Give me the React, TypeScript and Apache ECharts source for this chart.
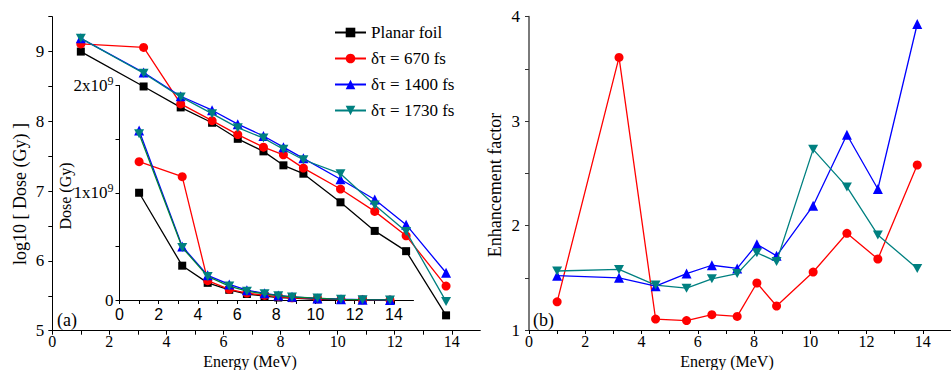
import React, { useEffect, useRef } from 'react';
import * as echarts from 'echarts';

const energy = [1, 3.2, 4.5, 5.6, 6.5, 7.4, 8.1, 8.8, 10.1, 11.3, 12.4, 13.8];

const seriesNames = ['Planar foil', 'δτ = 670 fs', 'δτ = 1400 fs', 'δτ = 1730 fs'];

// panel (a): log10 of dose
const logPlanar = [9.0, 8.5, 8.2, 7.98, 7.75, 7.57, 7.37, 7.25, 6.84, 6.43, 6.14, 5.22];
const log670 = [9.11, 9.06, 8.25, 8.01, 7.81, 7.63, 7.52, 7.33, 7.03, 6.71, 6.36, 5.64];
const log1400 = [9.19, 8.7, 8.36, 8.16, 7.96, 7.79, 7.63, 7.47, 7.17, 6.88, 6.52, 5.83];
const log1730 = [9.19, 8.69, 8.35, 8.11, 7.91, 7.76, 7.6, 7.45, 7.25, 6.8, 6.42, 5.42];

// inset: dose in units of 1e9 Gy
const dosePlanar = [1.0, 0.32, 0.16, 0.095, 0.056, 0.037, 0.023, 0.018, 0.007, 0.003, 0.0014, 0.0002];
const dose670 = [1.29, 1.15, 0.18, 0.1, 0.065, 0.043, 0.033, 0.021, 0.011, 0.005, 0.0023, 0.0004];
const dose1400 = [1.58, 0.5, 0.23, 0.145, 0.091, 0.062, 0.043, 0.03, 0.015, 0.0076, 0.0033, 0.0007];
const dose1730 = [1.55, 0.49, 0.22, 0.13, 0.082, 0.058, 0.04, 0.028, 0.018, 0.0063, 0.0026, 0.0003];

// panel (b): enhancement factor
const ef670 = [1.27, 3.61, 1.105, 1.09, 1.147, 1.13, 1.45, 1.23, 1.555, 1.926, 1.68, 2.58];
const ef1400 = [1.52, 1.5, 1.42, 1.54, 1.62, 1.59, 1.82, 1.71, 2.19, 2.87, 2.35, 3.93];
const ef1730 = [1.565, 1.58, 1.43, 1.4, 1.49, 1.54, 1.74, 1.655, 2.73, 2.37, 1.91, 1.59];

const xTickLabels = ['0', '2', '4', '6', '8', '10', '12', '14'];

const SERIF = 'Liberation Serif';
const SANS = 'Liberation Sans';

const colors = ['#000000', '#ff0000', '#0000ff', '#008080'];
const insetLineColors = ['#000000', '#ff0000', '#0000ff', '#00803c'];
const symbols = ['rect', 'circle', 'triangle', 'path://M0,0L10,0L5,8.66Z'];
const symbolSizes: any[] = [8, 9, 10, [10, 9]];

const pair = (ys: number[]) => energy.map((x, i) => [x, ys[i]]);

export default function App() {
  const ref = useRef<HTMLDivElement>(null);
  useEffect(() => {
    if (!ref.current) return;
    const chart = echarts.init(ref.current, null, { renderer: 'svg' });

    const xLabelFmt = (v: number) => (xTickLabels.includes(String(v)) ? String(v) : '');
    const baseX = (gridIndex: number, font: string, size: number, margin: number) => ({
      type: 'value',
      gridIndex,
      min: 0,
      max: 15,
      interval: 1,
      axisLine: { show: true, onZero: false, lineStyle: { color: '#000', width: 1 } },
      axisTick: { show: true, inside: false, length: 4, lineStyle: { color: '#000', width: 1 } },
      axisLabel: {
        formatter: xLabelFmt, fontFamily: font, fontSize: size,
        color: '#000', margin, showMaxLabel: false,
      },
      splitLine: { show: false },
    });

    const mainData = [logPlanar, log670, log1400, log1730];
    const insetData = [dosePlanar, dose670, dose1400, dose1730];
    const efData = [null, ef670, ef1400, ef1730];

    const series: any[] = [];
    for (let k = 0; k < 4; k++) {
      series.push({
        type: 'line',
        name: seriesNames[k],
        xAxisIndex: 0,
        yAxisIndex: 0,
        data: pair(mainData[k]),
        symbol: symbols[k],
        symbolSize: symbolSizes[k],
        showAllSymbol: true,
        lineStyle: { color: colors[k], width: 1.3 },
        itemStyle: { color: colors[k] },
        z: 3 + k,
      });
    }
    for (let k = 0; k < 4; k++) {
      series.push({
        type: 'line',
        name: seriesNames[k],
        xAxisIndex: 1,
        yAxisIndex: 1,
        data: pair(insetData[k]),
        symbol: symbols[k],
        symbolSize: symbolSizes[k],
        showAllSymbol: true,
        lineStyle: { color: insetLineColors[k], width: 1.3 },
        itemStyle: { color: colors[k] },
        z: 3 + k,
      });
    }
    for (let k = 1; k < 4; k++) {
      series.push({
        type: 'line',
        name: seriesNames[k],
        xAxisIndex: 2,
        yAxisIndex: 2,
        data: pair(efData[k] as number[]),
        symbol: symbols[k],
        symbolSize: symbolSizes[k],
        showAllSymbol: true,
        lineStyle: { color: colors[k], width: 1.3 },
        itemStyle: { color: colors[k] },
        z: 3 + k,
      });
    }

    const option: any = {
      animation: false,
      backgroundColor: '#ffffff',
      grid: [
        { left: 52.3, top: 16.7, width: 428, height: 314 },
        { left: 119.5, top: 85.5, width: 294, height: 214.5 },
        { left: 529, top: 16.7, width: 426, height: 313.3 },
      ],
      xAxis: [baseX(0, SERIF, 16, 3), baseX(1, SANS, 16, 6.5), baseX(2, SERIF, 16, 3)],
      yAxis: [
        {
          type: 'value',
          gridIndex: 0,
          min: 5,
          max: 9.5,
          interval: 0.5,
          axisLine: { show: true, onZero: false, lineStyle: { color: '#000', width: 1 } },
          axisTick: { show: true, length: 4, lineStyle: { color: '#000' } },
          axisLabel: {
            formatter: (v: number) => (Number.isInteger(v) ? String(v) : ''),
            fontFamily: SERIF, fontSize: 17, color: '#000', margin: 8,
          },
          splitLine: { show: false },
        },
        {
          type: 'value',
          gridIndex: 1,
          min: 0,
          max: 2,
          interval: 0.5,
          axisLine: { show: true, onZero: false, lineStyle: { color: '#000', width: 1 } },
          axisTick: { show: true, length: 4, lineStyle: { color: '#000' } },
          axisLabel: {
            formatter: (v: number) => {
              if (v === 0) return '{a|0}';
              if (Number.isInteger(v)) return '{a|' + v + 'x10}{s|9}';
              return '';
            },
            margin: 6,
            rich: {
              a: { fontFamily: SERIF, fontSize: 17, color: '#000' },
              s: { fontFamily: SERIF, fontSize: 12, color: '#000', padding: [0, 0, 9, 0] },
            },
          },
          splitLine: { show: false },
        },
        {
          type: 'value',
          gridIndex: 2,
          min: 1,
          max: 4,
          interval: 0.5,
          axisLine: { show: true, onZero: false, lineStyle: { color: '#7a7a7a', width: 2 } },
          axisTick: { show: true, length: 4, lineStyle: { color: '#333' } },
          axisLabel: {
            formatter: (v: number) => (Number.isInteger(v) ? String(v) : ''),
            fontFamily: SERIF, fontSize: 17, color: '#000', margin: 9,
          },
          splitLine: { show: false },
        },
      ],
      legend: {
        orient: 'vertical',
        left: 334,
        top: 24,
        padding: 0,
        itemWidth: 31,
        itemHeight: 12,
        itemGap: 9,
        data: seriesNames,
        selectedMode: false,
        textStyle: { fontFamily: SERIF, fontSize: 17, color: '#000', lineHeight: 17 },
      },
      graphic: [
        {
          type: 'text', x: 20, y: 194, rotation: Math.PI / 2,
          style: { text: 'log10 [ Dose (Gy) ]', fontFamily: SERIF, fontSize: 18, fill: '#000', textAlign: 'center', textVerticalAlign: 'middle' },
        },
        {
          type: 'text', x: 65, y: 196, rotation: Math.PI / 2,
          style: { text: 'Dose (Gy)', fontFamily: SERIF, fontSize: 16, fill: '#000', textAlign: 'center', textVerticalAlign: 'middle' },
        },
        {
          type: 'text', x: 495, y: 185, rotation: Math.PI / 2,
          style: { text: 'Enhancement factor', fontFamily: SERIF, fontSize: 18, fill: '#000', textAlign: 'center', textVerticalAlign: 'middle' },
        },
        {
          type: 'text', x: 250, y: 361.2,
          style: { text: 'Energy (MeV)', fontFamily: SERIF, fontSize: 16, fill: '#000', textAlign: 'center', textVerticalAlign: 'middle' },
        },
        {
          type: 'text', x: 727, y: 361.2,
          style: { text: 'Energy (MeV)', fontFamily: SERIF, fontSize: 16, fill: '#000', textAlign: 'center', textVerticalAlign: 'middle' },
        },
        {
          type: 'text', x: 57, y: 320,
          style: { text: '(a)', fontFamily: SERIF, fontSize: 18, fill: '#000', textAlign: 'left', textVerticalAlign: 'middle' },
        },
        {
          type: 'text', x: 533, y: 320,
          style: { text: '(b)', fontFamily: SERIF, fontSize: 18, fill: '#000', textAlign: 'left', textVerticalAlign: 'middle' },
        },
      ],
      series,
    };
    chart.setOption(option);
    return () => chart.dispose();
  }, []);
  return (
    <div
      ref={ref}
      style={{ position: 'absolute', left: 0, top: 0, width: 951, height: 370, background: '#fff' }}
    />
  );
}
